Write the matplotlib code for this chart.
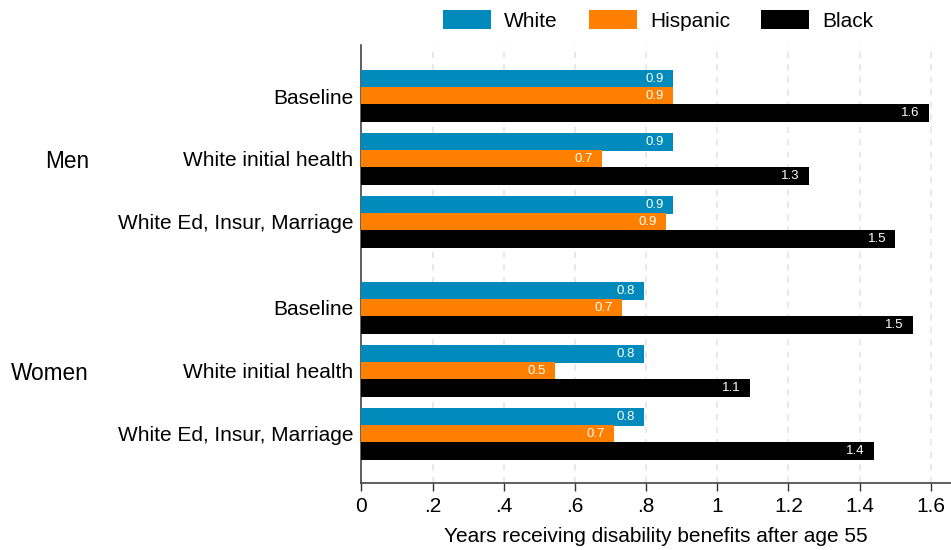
import numpy as np
import matplotlib.pyplot as plt

plt.rcParams['font.family'] = ['Liberation Sans', 'DejaVu Sans']

scenarios = ["Baseline", "White initial health", "White Ed, Insur, Marriage"]
groups = ["Men", "Women"]
races = ["White", "Hispanic", "Black"]
colors = ["#008bbc", "#ff7f00", "#000000"]

# rows: Men x 3 scenarios, then Women x 3 scenarios
white = [0.875, 0.875, 0.875, 0.794, 0.794, 0.794]
hispanic = [0.875, 0.676, 0.855, 0.732, 0.543, 0.709]
black = [1.594, 1.257, 1.501, 1.549, 1.091, 1.440]

# y positions (gap between the two groups)
ypos = np.array([0, 1, 2, 3.365, 4.365, 5.365])
h = 0.278
off = 0.27

fig = plt.figure(figsize=(9.51, 5.5), dpi=100)
ax = fig.add_axes([0.3801, 0.1218, 0.6199, 0.7964])

for k, (vals, c) in enumerate(zip([white, hispanic, black], colors)):
    yy = ypos + (k - 1) * off
    ax.barh(yy, vals, height=h, color=c, label=races[k], zorder=3)
    for y, v in zip(yy, vals):
        ax.text(v - 0.025, y, f"{v:.1f}", color="white", fontsize=9.5,
                ha="right", va="center", zorder=4)

ax.set_xlim(0, 1.657)
ax.set_ylim(ypos[-1] + 0.78, ypos[0] - 0.81)
ax.set_xticks(np.arange(0, 1.61, 0.2))
ax.set_xticklabels(["0", ".2", ".4", ".6", ".8", "1", "1.2", "1.4", "1.6"], fontsize=15)
ax.set_yticks(ypos)
ax.set_yticklabels(scenarios * 2, fontsize=15)
ax.tick_params(axis="y", length=0, pad=6)
ax.tick_params(axis="x", length=6, width=1, color="#333333", pad=4)
ax.xaxis.grid(True, color="#e9e9e9", linewidth=1.5, linestyle=(0, (3, 3)), zorder=0)
ax.set_axisbelow(True)
for s in ["top", "right"]:
    ax.spines[s].set_visible(False)
for s in ["left", "bottom"]:
    ax.spines[s].set_color("#444444")
    ax.spines[s].set_linewidth(1.2)
ax.set_xlabel("Years receiving disability benefits after age 55", fontsize=15, labelpad=8)

# group labels
for g, y in zip(groups, [ypos[1], ypos[4]]):
    ax.text(-0.766, y + 0.04, g, fontsize=16.3, ha="right", va="center",
            transform=ax.transData, clip_on=False)

leg = fig.legend(loc="upper center", bbox_to_anchor=(0.692, 1.016), ncol=3,
                 frameon=False, fontsize=15, handlelength=2.3, handleheight=1.05,
                 columnspacing=1.5, handletextpad=0.63)

fig.savefig("out.png", dpi=100)
